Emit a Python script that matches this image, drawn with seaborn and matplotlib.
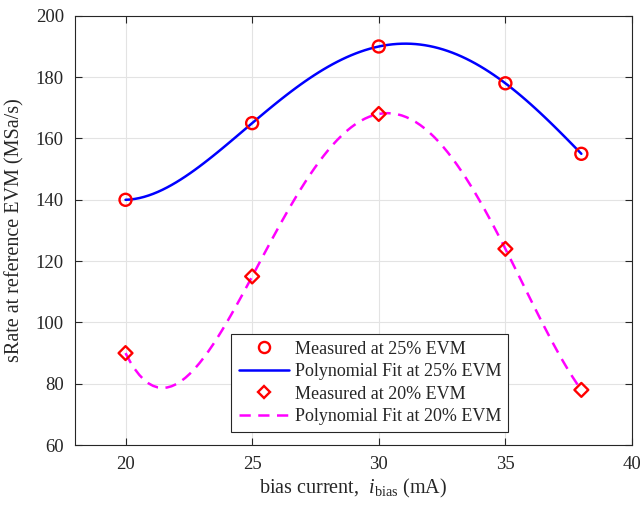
import numpy as np
import pandas as pd
import matplotlib
matplotlib.use("Agg")
import matplotlib.pyplot as plt
import seaborn as sns
from matplotlib.lines import Line2D

bias_current = [20, 25, 30, 35, 38]
rate_25evm = [140, 165, 190, 178, 155]
rate_20evm = [90, 115, 168, 124, 78]
x_ticks = [20, 25, 30, 35, 40]
y_ticks = [60, 80, 100, 120, 140, 160, 180, 200]
legend_labels = ["Measured at 25% EVM", "Polynomial Fit at 25% EVM",
                 "Measured at 20% EVM", "Polynomial Fit at 20% EVM"]

sns.set_style("ticks")
plt.rcParams['font.family'] = ['Liberation Serif', 'DejaVu Serif']
plt.rcParams['mathtext.fontset'] = 'custom'
plt.rcParams['mathtext.rm'] = 'Liberation Serif'
plt.rcParams['mathtext.it'] = 'Liberation Serif:italic'

df = pd.DataFrame({"x": bias_current, "y25": rate_25evm, "y20": rate_20evm})

fig = plt.figure(figsize=(6.4, 5.11), dpi=100)
ax = fig.add_axes([0.117, 0.129, 0.8705, 0.84])

dash = (0, (4.5, 3))
sns.regplot(data=df, x="x", y="y25", order=4, ci=None, scatter=False, ax=ax,
            line_kws=dict(color="#0000ff", lw=1.8, zorder=3))
sns.regplot(data=df, x="x", y="y20", order=4, ci=None, scatter=False, ax=ax,
            line_kws=dict(color="#ff00ff", lw=1.8, ls=dash, zorder=3))
sns.scatterplot(data=df, x="x", y="y25", marker="o", s=75, facecolors="none",
                edgecolor="#ff0000", linewidth=1.7, ax=ax, zorder=4)
sns.scatterplot(data=df, x="x", y="y20", marker="D", s=50, facecolors="none",
                edgecolor="#ff0000", linewidth=1.7, ax=ax, zorder=4)

ax.set_xlim(18, 40)
ax.set_ylim(60, 200)
ax.set_xticks(x_ticks)
ax.set_yticks(y_ticks)
ax.grid(True, color="#e3e3e3", lw=0.8)
ax.set_axisbelow(True)
for s in ax.spines.values():
    s.set_color("#262626")
    s.set_linewidth(0.8)
    s.set_visible(True)
ax.tick_params(direction="in", top=True, right=True, length=5, width=0.8,
               labelsize=13.5, colors="#262626", pad=8)
ax.set_xlabel(r"bias current,  $i_{\mathrm{bias}}$ (mA)", fontsize=14.5, color="#262626", labelpad=3)
ax.set_ylabel("sRate at reference EVM (MSa/s)", fontsize=14.5, color="#262626", labelpad=8)

handles = [
    Line2D([], [], ls="none", marker="o", mfc="none", mec="#ff0000", mew=1.7, ms=8),
    Line2D([], [], color="#0000ff", lw=1.8),
    Line2D([], [], ls="none", marker="D", mfc="none", mec="#ff0000", mew=1.7, ms=6.5),
    Line2D([], [], color="#ff00ff", lw=1.8, ls=dash),
]
leg = ax.legend(handles, legend_labels, loc="lower left", bbox_to_anchor=(0.281, 0.03),
                fontsize=13, frameon=True, fancybox=False, edgecolor="#262626",
                framealpha=1, borderpad=0.4, labelspacing=0.3, handlelength=2.8,
                handletextpad=0.3, borderaxespad=0)
leg.get_frame().set_linewidth(0.8)

fig.savefig("out.png", dpi=100)
